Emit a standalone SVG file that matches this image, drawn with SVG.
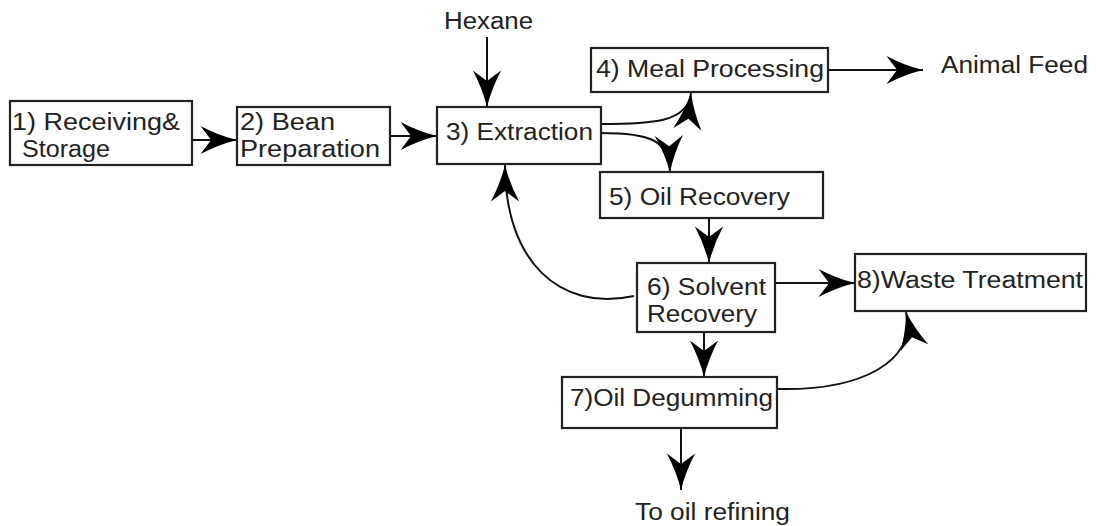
<svg xmlns="http://www.w3.org/2000/svg" width="1096" height="526" viewBox="0 0 1096 526">
  <style>
    .box { fill: #ffffff; stroke: #222222; stroke-width: 2.2; }
    .lbl { font-family: "Liberation Sans", Arial, sans-serif; font-size: 23.5px; fill: #222222; }
    .wire { fill: none; stroke: #111111; stroke-width: 2; marker-end: url(#head); }
  </style>
  <defs>
    <!-- swallow-tail arrowhead, tip at the path end -->
    <marker id="head" markerUnits="userSpaceOnUse" markerWidth="40" markerHeight="40" viewBox="-32 -14 34 28" refX="0" refY="0" orient="auto" overflow="visible">
      <path d="M0,0 Q-16,-4 -31,-12 L-22,0 L-31,12 Q-16,4 0,0 Z" fill="#000000"/>
    </marker>
  </defs>

  <rect width="1096" height="526" fill="#ffffff"/>

  <!-- connectors -->
  <g id="connectors">
    <path class="wire" d="M192,140 L237,140"/>
    <path class="wire" d="M390,136 L437,136"/>
    <path class="wire" d="M487,37 L487,107"/>
    <path class="wire" d="M601,124 C650,124 688,123 691,93"/>
    <path class="wire" d="M601,133 C650,133 669,140 670,172"/>
    <path class="wire" d="M709,218 L709,263"/>
    <path class="wire" d="M634,296 C560,312 505,262 505,165"/>
    <path class="wire" d="M775,283 L855,283"/>
    <path class="wire" d="M704,332 L704,377"/>
    <path class="wire" d="M777,389 C860,391 918,362 906,312"/>
    <path class="wire" d="M681,428 L681,490"/>
    <path class="wire" d="M828,70 L923,70"/>
  </g>

  <g id="n1">
    <rect class="box" x="10" y="101" width="182" height="64"/>
    <text class="lbl" x="12" y="130" textLength="168" lengthAdjust="spacingAndGlyphs">1) Receiving&amp;</text>
    <text class="lbl" x="22" y="157" textLength="88" lengthAdjust="spacingAndGlyphs">Storage</text>
  </g>
  <g id="n2">
    <rect class="box" x="237" y="107" width="153" height="58"/>
    <text class="lbl" x="240" y="130" textLength="95" lengthAdjust="spacingAndGlyphs">2) Bean</text>
    <text class="lbl" x="240" y="157" textLength="140" lengthAdjust="spacingAndGlyphs">Preparation</text>
  </g>
  <g id="n3">
    <rect class="box" x="437" y="107" width="164" height="57"/>
    <text class="lbl" x="446" y="140" textLength="147" lengthAdjust="spacingAndGlyphs">3) Extraction</text>
  </g>
  <g id="n4">
    <rect class="box" x="591" y="48" width="237" height="44"/>
    <text class="lbl" x="596" y="77" textLength="228" lengthAdjust="spacingAndGlyphs">4) Meal Processing</text>
  </g>
  <g id="n5">
    <rect class="box" x="600" y="172" width="223" height="46"/>
    <text class="lbl" x="609" y="205" textLength="181" lengthAdjust="spacingAndGlyphs">5) Oil Recovery</text>
  </g>
  <g id="n6">
    <rect class="box" x="637" y="263" width="138" height="69"/>
    <text class="lbl" x="647" y="295" textLength="119" lengthAdjust="spacingAndGlyphs">6) Solvent</text>
    <text class="lbl" x="647" y="322" textLength="110" lengthAdjust="spacingAndGlyphs">Recovery</text>
  </g>
  <g id="n7">
    <rect class="box" x="562" y="377" width="215" height="51"/>
    <text class="lbl" x="570" y="406" textLength="203" lengthAdjust="spacingAndGlyphs">7)Oil Degumming</text>
  </g>
  <g id="n8">
    <rect class="box" x="855" y="254" width="231" height="57"/>
    <text class="lbl" x="857" y="288" textLength="226" lengthAdjust="spacingAndGlyphs">8)Waste Treatment</text>
  </g>

  <g id="hexane">
    <text class="lbl" x="444" y="29" textLength="89" lengthAdjust="spacingAndGlyphs">Hexane</text>
  </g>
  <g id="animal-feed">
    <text class="lbl" x="941" y="73" textLength="147" lengthAdjust="spacingAndGlyphs">Animal Feed</text>
  </g>
  <g id="oil-refining">
    <text class="lbl" x="635" y="520" textLength="155" lengthAdjust="spacingAndGlyphs">To oil refining</text>
  </g>
</svg>
